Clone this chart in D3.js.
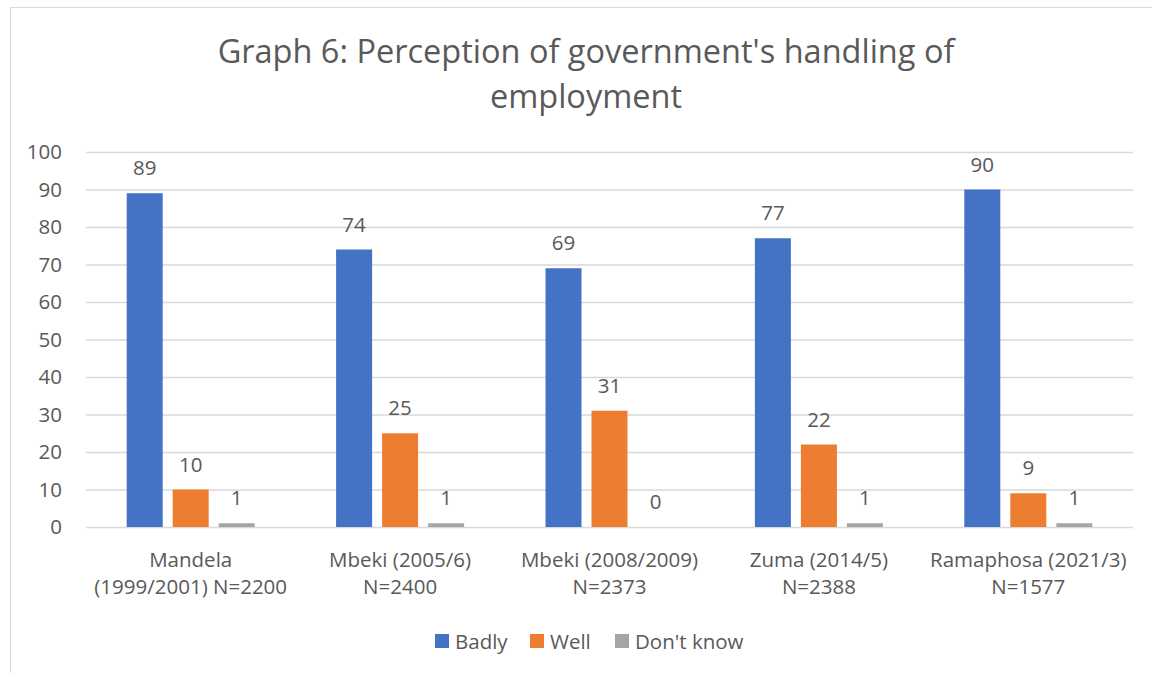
<!DOCTYPE html>
<html>
<head>
<meta charset="utf-8">
<script src="https://cdnjs.cloudflare.com/ajax/libs/d3/7.8.5/d3.min.js"></script>
<style>
  html, body { margin: 0; padding: 0; background: #fff; }
  svg { display: block; }
  text { font-family: "Open Sans", "Noto Sans", sans-serif; fill: #595959; }
</style>
</head>
<body>
<svg id="chart" width="1152" height="673"></svg>
<script>
// Survey periods and sample sizes (two-line axis labels)
const categories = [
  ["Mandela", "(1999/2001) N=2200"],
  ["Mbeki (2005/6)", "N=2400"],
  ["Mbeki (2008/2009)", "N=2373"],
  ["Zuma (2014/5)", "N=2388"],
  ["Ramaphosa (2021/3)", "N=1577"]
];
const seriesNames = ["Badly", "Well", "Don't know"];
const badly = [89, 74, 69, 77, 90];
const well = [10, 25, 31, 22, 9];
const dontKnow = [1, 1, 0, 1, 1];
const yTicks = [0, 10, 20, 30, 40, 50, 60, 70, 80, 90, 100];
const colors = ["#4472C4", "#ED7D31", "#A5A5A5"];
const titleLines = ["Graph 6: Perception of government's handling of", "employment"];

const values = [badly, well, dontKnow];
const FONT = '"Open Sans", "Noto Sans", sans-serif';
const SMALL = 20.5;
const svg = d3.select("#chart");

// Chart frame
svg.append("rect")
  .attr("x", 10.5).attr("y", 7.5)
  .attr("width", 1200).attr("height", 700)
  .attr("fill", "#fff").attr("stroke", "#d9d9d9").attr("stroke-width", 1);

const plot = { left: 86, right: 1133, top: 152, bottom: 527 };

const x0 = d3.scaleBand()
  .domain(d3.range(categories.length))
  .range([plot.left, plot.right])
  .paddingInner(0).paddingOuter(0);

const x1 = d3.scaleBand()
  .domain(d3.range(seriesNames.length))
  .range([0, 128])
  .paddingInner(10 / 46).paddingOuter(0);

const y = d3.scaleLinear().domain([0, 100]).range([plot.bottom, plot.top]);

// Title
svg.append("g").selectAll("text")
  .data(titleLines).join("text")
  .attr("x", 586).attr("y", (d, i) => 63 + i * 45)
  .attr("text-anchor", "middle")
  .attr("font-size", 32.5)
  .text(d => d);

// Gridlines + y tick labels
const yAxis = d3.axisLeft(y).tickValues(yTicks)
  .tickSize(-(plot.right - plot.left)).tickPadding(24);
const gy = svg.append("g")
  .attr("transform", `translate(${plot.left},0)`)
  .call(yAxis);
gy.select(".domain").remove();
gy.selectAll(".tick line").attr("stroke", "#d9d9d9").attr("stroke-width", 1.3);
gy.selectAll(".tick text")
  .attr("font-size", SMALL).attr("fill", "#595959")
  .style("font-family", FONT);

// Bars
const groups = svg.append("g").selectAll("g")
  .data(categories).join("g")
  .attr("transform", (d, i) => `translate(${x0(i) + x0.bandwidth() / 2 - 64},0)`);

groups.each(function(d, ci) {
  const g = d3.select(this);
  seriesNames.forEach((s, si) => {
    const v = values[si][ci];
    g.append("rect")
      .attr("x", x1(si))
      .attr("y", y(v))
      .attr("width", x1.bandwidth())
      .attr("height", y(0) - y(v))
      .attr("fill", colors[si]);
    g.append("text")
      .attr("x", x1(si) + x1.bandwidth() / 2)
      .attr("y", y(v) - 18)
      .attr("text-anchor", "middle")
      .attr("font-size", SMALL)
      .text(v);
  });
});

// Category labels
const xl = svg.append("g").selectAll("text")
  .data(categories).join("text")
  .attr("x", (d, i) => x0(i) + x0.bandwidth() / 2)
  .attr("text-anchor", "middle")
  .attr("font-size", SMALL);
xl.each(function(d) {
  const t = d3.select(this);
  d.forEach((line, li) => {
    t.append("tspan")
      .attr("x", t.attr("x"))
      .attr("y", 567 + li * 27)
      .text(line);
  });
});

// Legend
const legendX = [435, 530, 615];
const legend = svg.append("g").selectAll("g")
  .data(seriesNames).join("g")
  .attr("transform", (d, i) => `translate(${legendX[i]},634)`);
legend.append("rect")
  .attr("width", 14).attr("height", 14)
  .attr("fill", (d, i) => colors[i]);
legend.append("text")
  .attr("x", 20).attr("y", 14.5)
  .attr("font-size", SMALL)
  .text(d => d);
</script>
</body>
</html>
